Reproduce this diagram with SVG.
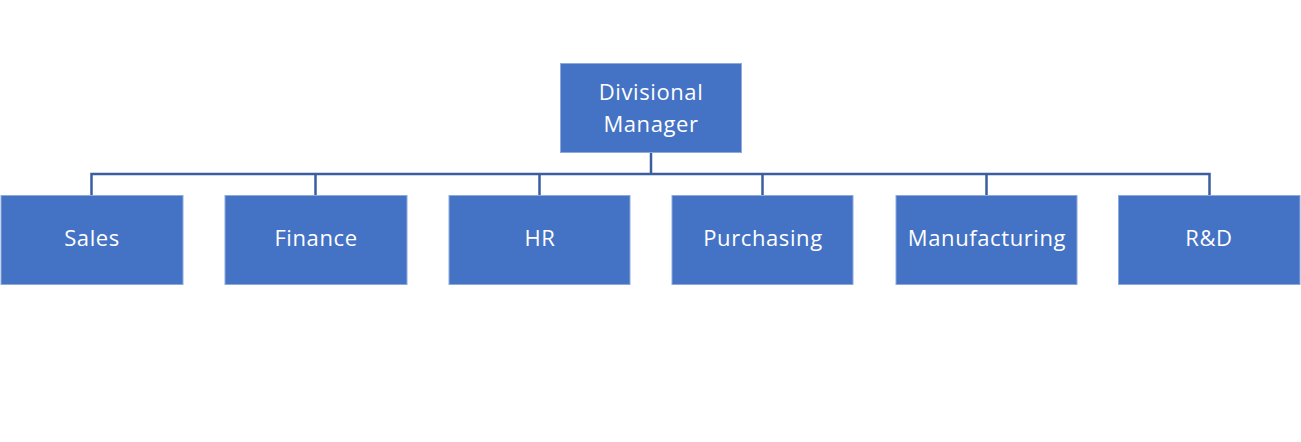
<svg xmlns="http://www.w3.org/2000/svg" width="1301" height="442" viewBox="0 0 1301 442">
<style>
.box{fill:#4472C4;stroke:#8EA9DB;stroke-width:1}
.lbl{fill:#ffffff;font-family:"Open Sans","Noto Sans",sans-serif;font-size:22px;letter-spacing:0.6px;text-anchor:middle}
.con{fill:none;stroke:#3A5E9E;stroke-width:2.5}
</style>
<rect width="1301" height="442" fill="#ffffff"/>
<g id="connectors">
<path class="con" d="M651 153V174"/>
<path class="con" d="M91.5 195V174H1209.5V195"/>
<path class="con" d="M315.5 174V195M539.5 174V195M762.5 174V195M986.5 174V195"/>
</g>
<g id="divisional-manager"><rect class="box" x="560.5" y="63.5" width="181" height="89"/><text class="lbl" x="651" y="100">Divisional</text><text class="lbl" x="651" y="132">Manager</text></g>
<g id="sales"><rect class="box" x="1" y="195.5" width="182" height="89"/><text class="lbl" x="92" y="246">Sales</text></g>
<g id="finance"><rect class="box" x="225" y="195.5" width="182" height="89"/><text class="lbl" x="316" y="246">Finance</text></g>
<g id="hr"><rect class="box" x="449" y="195.5" width="181" height="89"/><text class="lbl" x="540" y="246">HR</text></g>
<g id="purchasing"><rect class="box" x="672" y="195.5" width="181" height="89"/><text class="lbl" x="763" y="246">Purchasing</text></g>
<g id="manufacturing"><rect class="box" x="896" y="195.5" width="181" height="89"/><text class="lbl" x="987" y="246">Manufacturing</text></g>
<g id="rd"><rect class="box" x="1118.5" y="195.5" width="181.5" height="89"/><text class="lbl" x="1209" y="246">R&amp;D</text></g>
</svg>
